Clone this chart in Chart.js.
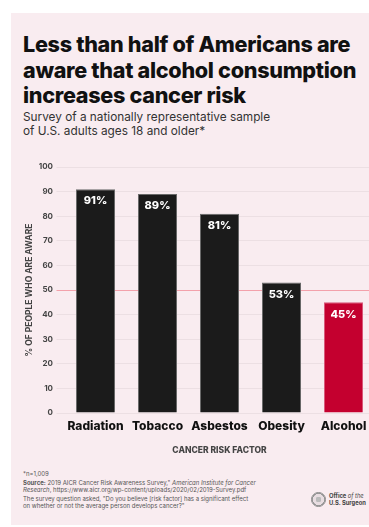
<!DOCTYPE html>
<html>
<head>
<meta charset="utf-8">
<script src="https://cdn.jsdelivr.net/npm/chart.js@4"></script>
<style>
  html, body { margin: 0; padding: 0; width: 369px; height: 527px; overflow: hidden; background: #fff; font-family: Inter, sans-serif; }
  #panel { position: absolute; left: 11px; top: 13px; width: 400px; height: 512px; background: #f9ecf0; }
  #title { position: absolute; left: 23px; top: 32px; margin: 0; font-size: 21.6px; line-height: 25.5px; font-weight: 800; color: #111; letter-spacing: -0.3px; white-space: nowrap; }
  #subtitle { position: absolute; left: 23px; top: 111px; margin: 0; font-size: 11.8px; line-height: 13.5px; color: #333; white-space: nowrap; }
  #chart-box { position: absolute; left: 0; top: 150px; width: 385px; height: 310px; }
  #notes { position: absolute; left: 23px; top: 470px; font-size: 6px; line-height: 7.4px; color: #555; white-space: nowrap; }
  #notes p { margin: 0 0 1.4px 0; }
  #seal { position: absolute; left: 311px; top: 492px; width: 13px; height: 13px; border-radius: 50%; border: 1px solid #888; background: radial-gradient(circle, #bbb 0 30%, #e8dde1 32% 60%, #999 62% 70%, #f4e8ec 72%); }
  #office { position: absolute; left: 329px; top: 492px; font-size: 5.8px; line-height: 7px; font-weight: 700; color: #444; white-space: nowrap; }
</style>
</head>
<body>
<div id="panel"></div>
<h1 id="title">Less than half of Americans are<br>aware that alcohol consumption<br>increases cancer risk</h1>
<p id="subtitle">Survey of a nationally representative sample<br>of U.S. adults ages 18 and older*</p>
<div id="chart-box"><canvas id="awareness-chart"></canvas></div>
<div id="notes">
  <p>*n=1,009</p>
  <p><b>Source:</b> 2019 AICR Cancer Risk Awareness Survey," <i>American Institute for Cancer<br>Research</i>, https://www.aicr.org/wp-content/uploads/2020/02/2019-Survey.pdf</p>
  <p>The survey question asked, "Do you believe [risk factor] has a significant effect<br>on whether or not the average person develops cancer?"</p>
</div>
<div id="seal"></div>
<div id="office">Office <i style="font-weight:400">of the</i><br>U.S. Surgeon</div>

<script>
const categories = ['Radiation', 'Tobacco', 'Asbestos', 'Obesity', 'Alcohol'];
const awareValues = [91, 89, 81, 53, 45];
const highlightCategory = 'Alcohol';
const yMin = 0;
const yMax = 100;
const yStep = 10;
const halfLine = 50;

const darkBar = '#1b1b1b';
const redBar = '#c4002f';

const valueLabels = {
  id: 'valueLabels',
  afterDatasetsDraw(chart) {
    const ctx = chart.ctx;
    const meta = chart.getDatasetMeta(0);
    ctx.save();
    ctx.fillStyle = '#ffffff';
    ctx.font = '800 11px Inter';
    ctx.textAlign = 'center';
    ctx.textBaseline = 'middle';
    meta.data.forEach((bar, i) => {
      ctx.fillText(awareValues[i] + '%', bar.x, bar.y + 12);
    });
    ctx.restore();
  }
};

function drawChart() {
  new Chart(document.getElementById('awareness-chart'), {
    type: 'bar',
    data: {
      labels: categories,
      datasets: [{
        data: awareValues,
        backgroundColor: ctx => categories[ctx.dataIndex] === highlightCategory ? redBar : darkBar,
        borderColor: ctx => categories[ctx.dataIndex] === highlightCategory ? '#d8587a' : '#6a6a6a',
        borderWidth: 1,
        barPercentage: 0.63,
        categoryPercentage: 1
      }]
    },
    options: {
      responsive: false,
      animation: false,
      devicePixelRatio: 1,
      layout: { padding: { top: 17, right: 10.5, left: 0, bottom: 0 } },
      plugins: { legend: { display: false }, tooltip: { enabled: false } },
      scales: {
        x: {
          grid: { display: false, drawTicks: false },
          border: { display: false },
          ticks: {
            color: '#111',
            font: { family: 'Inter', size: 12, weight: '800' },
            padding: 6,
            maxRotation: 0,
            minRotation: 0,
            autoSkip: false
          },
          title: {
            display: true,
            text: 'CANCER RISK FACTOR',
            color: '#444',
            font: { family: 'Inter', size: 8.5, weight: '800' },
            padding: { bottom: 4 }
          },
          afterFit: s => { s.height = 47; }
        },
        y: {
          min: yMin,
          max: yMax,
          border: { display: false },
          grid: {
            color: ctx => ctx.tick && ctx.tick.value === halfLine ? '#f3a1ab' : '#ecdfe3',
            lineWidth: 1,
            drawTicks: true,
            tickLength: 8
          },
          ticks: { stepSize: yStep, color: '#444', font: { family: 'Inter', size: 8, weight: '700' }, padding: 3.5 },
          title: {
            display: true,
            text: '% OF PEOPLE WHO ARE AWARE',
            color: '#444',
            font: { family: 'Inter', size: 8.5, weight: '700' },
            padding: { top: 24 }
          },
          afterFit: s => { s.width = 64.5; }
        }
      }
    },
    plugins: [valueLabels]
  });
}

const canvas = document.getElementById('awareness-chart');
canvas.width = 385;
canvas.height = 310;
document.fonts.load('800 12px Inter').then(drawChart, drawChart);
</script>
</body>
</html>
